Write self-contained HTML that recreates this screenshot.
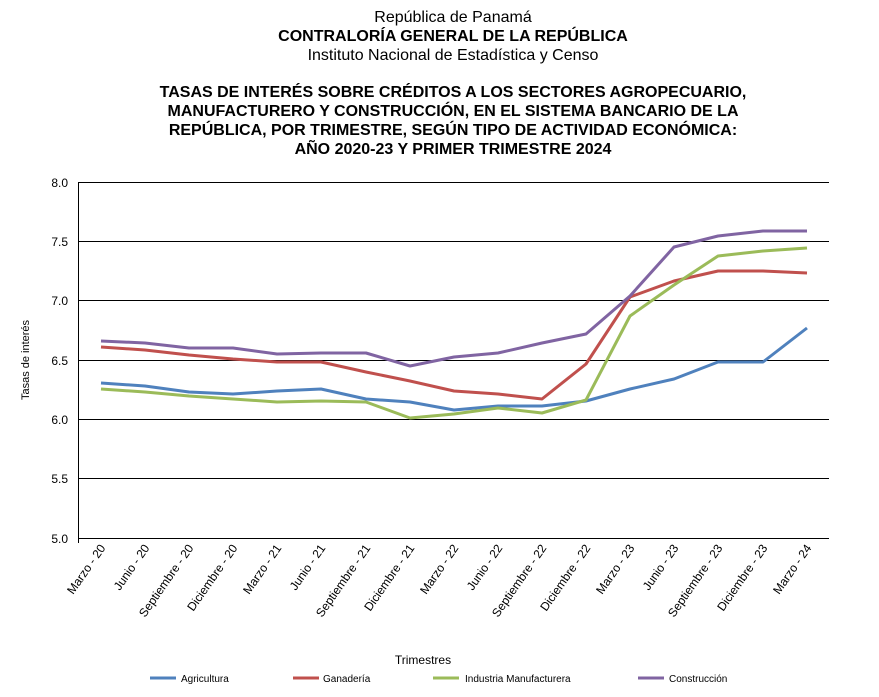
<!DOCTYPE html>
<html><head><meta charset="utf-8"><style>
body{margin:0;background:#fff;}
svg{display:block;font-family:"Liberation Sans",Arial,sans-serif;}
</style></head><body>
<svg width="879" height="697" viewBox="0 0 879 697" xmlns="http://www.w3.org/2000/svg">
<rect width="879" height="697" fill="#fff"/>
<g text-anchor="middle" font-size="16" fill="#000">
<text x="453" y="22">República de Panamá</text>
<text x="453" y="41" font-weight="bold">CONTRALORÍA GENERAL DE LA REPÚBLICA</text>
<text x="453" y="60">Instituto  Nacional de Estadística y Censo</text>
<g font-weight="bold">
<text x="453" y="97">TASAS  DE INTERÉS SOBRE  CRÉDITOS A LOS SECTORES  AGROPECUARIO,</text>
<text x="453" y="116">MANUFACTURERO Y CONSTRUCCIÓN, EN EL SISTEMA BANCARIO DE LA</text>
<text x="453" y="135">REPÚBLICA, POR TRIMESTRE, SEGÚN TIPO DE ACTIVIDAD ECONÓMICA:</text>
<text x="453" y="154">AÑO 2020-23 Y PRIMER TRIMESTRE 2024</text>
</g></g>
<g stroke="#000" stroke-width="1">
<line x1="78" y1="182.5" x2="829" y2="182.5"/>
<line x1="78" y1="241.5" x2="829" y2="241.5"/>
<line x1="78" y1="300.5" x2="829" y2="300.5"/>
<line x1="78" y1="360.5" x2="829" y2="360.5"/>
<line x1="78" y1="419.5" x2="829" y2="419.5"/>
<line x1="78" y1="478.5" x2="829" y2="478.5"/>
<line x1="78" y1="538.5" x2="829" y2="538.5"/>
<line x1="78.5" y1="182" x2="78.5" y2="543"/>
</g>
<g font-size="12" text-anchor="end">
<text x="68" y="187">8.0</text><text x="68" y="246">7.5</text><text x="68" y="305">7.0</text>
<text x="68" y="365">6.5</text><text x="68" y="424">6.0</text><text x="68" y="483">5.5</text><text x="68" y="543">5.0</text>
</g>
<text transform="translate(29,360) rotate(-90)" font-size="11" text-anchor="middle">Tasas de interés</text>
<g font-size="12" text-anchor="end">
<text transform="translate(106,548) rotate(-55)">Marzo - 20</text>
<text transform="translate(150,548) rotate(-55)">Junio - 20</text>
<text transform="translate(194,548) rotate(-55)">Septiembre - 20</text>
<text transform="translate(238,548) rotate(-55)">Diciembre - 20</text>
<text transform="translate(282,548) rotate(-55)">Marzo - 21</text>
<text transform="translate(326,548) rotate(-55)">Junio - 21</text>
<text transform="translate(371,548) rotate(-55)">Septiembre - 21</text>
<text transform="translate(415,548) rotate(-55)">Diciembre - 21</text>
<text transform="translate(459,548) rotate(-55)">Marzo - 22</text>
<text transform="translate(503,548) rotate(-55)">Junio - 22</text>
<text transform="translate(547,548) rotate(-55)">Septiembre - 22</text>
<text transform="translate(591,548) rotate(-55)">Diciembre - 22</text>
<text transform="translate(635,548) rotate(-55)">Marzo - 23</text>
<text transform="translate(679,548) rotate(-55)">Junio - 23</text>
<text transform="translate(723,548) rotate(-55)">Septiembre - 23</text>
<text transform="translate(768,548) rotate(-55)">Diciembre - 23</text>
<text transform="translate(812,548) rotate(-55)">Marzo - 24</text>
</g>
<text x="423" y="664" font-size="12" text-anchor="middle">Trimestres</text>
<g fill="none" stroke-width="3" stroke-linejoin="round">
<polyline stroke="#4F81BD" points="101,383 145,386 189,392 233,394 277,391 321,389 366,399 410,402 454,410 498,406 542,406 586,401 630,389 674,379 718,362 763,362 807,328"/>
<polyline stroke="#C0504D" points="101,347 145,350 189,355 233,359 277,362 321,362 366,372 410,381 454,391 498,394 542,399 586,364 630,297 674,281 718,271 763,271 807,273"/>
<polyline stroke="#9BBB59" points="101,389 145,392 189,396 233,399 277,402 321,401 366,402 410,418 454,414 498,408 542,413 586,400 630,316 674,285 718,256 763,251 807,248"/>
<polyline stroke="#8064A2" points="101,341 145,343 189,348 233,348 277,354 321,353 366,353 410,366 454,357 498,353 542,343 586,334 630,296 674,247 718,236 763,231 807,231"/>
</g>
<g stroke-width="3">
<line x1="150" y1="678" x2="176" y2="678" stroke="#4F81BD"/>
<line x1="293" y1="678" x2="319" y2="678" stroke="#C0504D"/>
<line x1="433" y1="678" x2="459" y2="678" stroke="#9BBB59"/>
<line x1="638" y1="678" x2="664" y2="678" stroke="#8064A2"/>
</g>
<g font-size="10">
<text x="181" y="682">Agricultura</text>
<text x="323" y="682">Ganadería</text>
<text x="465" y="682">Industria Manufacturera</text>
<text x="669" y="682">Construcción</text>
</g>
</svg>
</body></html>
